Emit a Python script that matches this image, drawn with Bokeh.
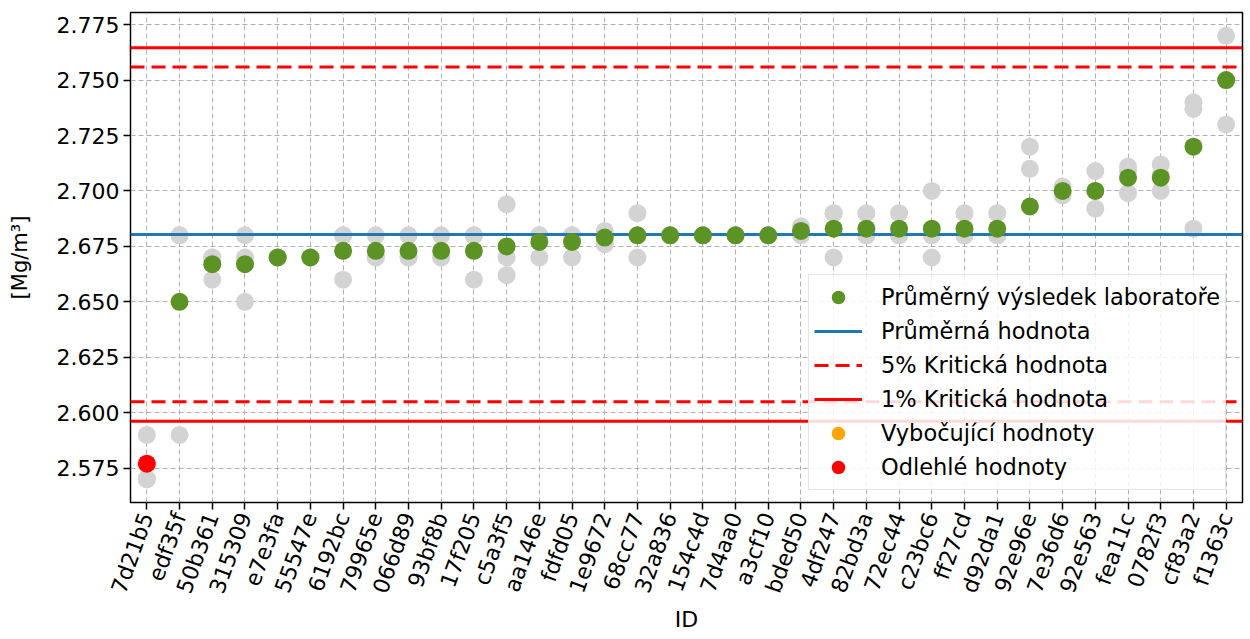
from bokeh.plotting import figure
from bokeh.models import (FactorRange, Range1d, FixedTicker, NumeralTickFormatter,
                          ColumnDataSource, Legend, LegendItem)
from bokeh.embed import file_html
from bokeh.resources import INLINE

labs = ["7d21b5", "edf35f", "50b361", "315309", "e7e3fa", "55547e", "6192bc", "79965e",
        "066d89", "93bf8b", "17f205", "c5a3f5", "aa146e", "fdfd05", "1e9672", "68cc77",
        "32a836", "154c4d", "7d4aa0", "a3cf10", "bded50", "4df247", "82bd3a", "72ec44",
        "c23bc6", "ff27cd", "d92da1", "92e96e", "7e36d6", "92e563", "fea11c", "0782f3",
        "cf83a2", "f1363c"]

rep1 = [2.590, 2.680, 2.670, 2.680, 2.670, 2.670, 2.680, 2.680, 2.680, 2.680, 2.680, 2.694,
        2.680, 2.680, 2.682, 2.690, 2.680, 2.680, 2.680, 2.680, 2.684, 2.690, 2.690, 2.690,
        2.700, 2.690, 2.690, 2.720, 2.702, 2.709, 2.711, 2.712, 2.740, 2.770]
rep2 = [2.570, 2.680, 2.670, 2.670, 2.670, 2.670, 2.680, 2.670, 2.670, 2.670, 2.680, 2.670,
        2.680, 2.680, 2.679, 2.680, 2.680, 2.680, 2.680, 2.680, 2.682, 2.690, 2.680, 2.680,
        2.680, 2.680, 2.680, 2.710, 2.700, 2.700, 2.709, 2.707, 2.737, 2.750]
rep3 = [2.570, 2.590, 2.660, 2.650, 2.670, 2.670, 2.660, 2.670, 2.670, 2.670, 2.660, 2.662,
        2.670, 2.670, 2.676, 2.670, 2.680, 2.680, 2.680, 2.680, 2.680, 2.670, 2.680, 2.680,
        2.670, 2.680, 2.680, 2.650, 2.698, 2.692, 2.699, 2.700, 2.683, 2.730]
lab_mean = [2.577, 2.650, 2.667, 2.667, 2.670, 2.670, 2.673, 2.673, 2.673, 2.673, 2.673, 2.675,
            2.677, 2.677, 2.679, 2.680, 2.680, 2.680, 2.680, 2.680, 2.682, 2.683, 2.683, 2.683,
            2.683, 2.683, 2.683, 2.693, 2.700, 2.700, 2.706, 2.706, 2.720, 2.750]
status = ["odlehla"] + ["ok"] * 33

overall_mean = 2.6804
crit5 = [2.6049, 2.7559]
crit1 = [2.5962, 2.7646]
yticks = [2.575, 2.600, 2.625, 2.650, 2.675, 2.700, 2.725, 2.750, 2.775]

FONT = "DejaVu Sans"

p = figure(width=1248, height=639, x_range=FactorRange(*labs, range_padding=0),
           y_range=Range1d(2.5595, 2.7805), output_backend="svg", toolbar_location=None,
           min_border_left=130, min_border_right=6, min_border_top=12, min_border_bottom=137)

# grey replicate points
gx = labs + labs + labs
gy = rep1 + rep2 + rep3
p.scatter(gx, gy, size=18, color="#d3d3d3", line_color=None)

n = len(labs)
r_mean = p.line(x=[0, n], y=[overall_mean, overall_mean], color="#1f77b4", line_width=3)
r5a = p.line(x=[0, n], y=[crit5[0], crit5[0]], color="#ff0000", line_width=3, line_dash="14 7")
r5b = p.line(x=[0, n], y=[crit5[1], crit5[1]], color="#ff0000", line_width=3, line_dash="14 7")
r1a = p.line(x=[0, n], y=[crit1[0], crit1[0]], color="#ff0000", line_width=3)
r1b = p.line(x=[0, n], y=[crit1[1], crit1[1]], color="#ff0000", line_width=3)

okx = [l for l, s in zip(labs, status) if s == "ok"]
oky = [m for m, s in zip(lab_mean, status) if s == "ok"]
outx = [l for l, s in zip(labs, status) if s == "odlehla"]
outy = [m for m, s in zip(lab_mean, status) if s == "odlehla"]
vybx = [l for l, s in zip(labs, status) if s == "vybocujici"]
vyby = [m for m, s in zip(lab_mean, status) if s == "vybocujici"]
if not vybx:
    # no "vybočující" labs: keep a NaN placeholder so the legend can still show the marker
    vybx, vyby = [labs[0]], [float("nan")]

r_ok = p.scatter(okx, oky, size=18, color="#5b9424", line_color=None)
r_vyb = p.scatter(x="x", y="y", source=ColumnDataSource(dict(x=vybx, y=vyby)),
                  size=18, color="#ffa500", line_color=None)
r_out = p.scatter(outx, outy, size=18, color="#ff0000", line_color=None)

legend = Legend(items=[
    LegendItem(label="Průměrný výsledek laboratoře", renderers=[r_ok]),
    LegendItem(label="Průměrná hodnota", renderers=[r_mean]),
    LegendItem(label="5% Kritická hodnota", renderers=[r5a]),
    LegendItem(label="1% Kritická hodnota", renderers=[r1a]),
    LegendItem(label="Vybočující hodnoty", renderers=[r_vyb]),
    LegendItem(label="Odlehlé hodnoty", renderers=[r_out]),
], location=(678, 12))
legend.label_text_font = FONT
legend.label_text_font_size = "22.5px"
legend.label_text_color = "black"
legend.glyph_width = 48
legend.glyph_height = 34
legend.label_height = 34
legend.spacing = 0
legend.padding = 5
legend.label_standoff = 19
legend.border_line_color = "#cccccc"
legend.border_line_width = 1.5
legend.background_fill_alpha = 0.85
p.add_layout(legend, "center")

p.yaxis.ticker = FixedTicker(ticks=yticks)
p.yaxis.formatter = NumeralTickFormatter(format="0.000")
for ax in (p.xaxis[0], p.yaxis[0]):
    ax.major_label_text_font = FONT
    ax.major_label_text_font_size = "22px"
    ax.major_label_text_color = "black"
    ax.major_label_standoff = 4
    ax.axis_label_text_font = FONT
    ax.axis_label_text_font_style = "normal"
    ax.axis_label_text_color = "black"
    ax.axis_line_color = None
    ax.major_tick_out = 7
    ax.major_tick_in = 0
    ax.major_tick_line_width = 1.5
    ax.major_tick_line_color = "black"
    ax.minor_tick_line_color = None
p.xaxis.major_label_orientation = 1.2217
p.xaxis.axis_label = "ID"
p.xaxis.axis_label_text_font_size = "22px"
p.xaxis.axis_label_standoff = 3
p.yaxis.axis_label = "[Mg/m³]"
p.yaxis.axis_label_text_font_size = "21px"
p.yaxis.axis_label_standoff = 22

p.outline_line_color = "black"
p.outline_line_width = 1.5
p.outline_line_alpha = 1
p.grid.grid_line_color = "#b0b0b0"
p.grid.grid_line_dash = "5 3"
p.grid.grid_line_width = 1

open("out.html", "w").write(file_html(p, INLINE))
